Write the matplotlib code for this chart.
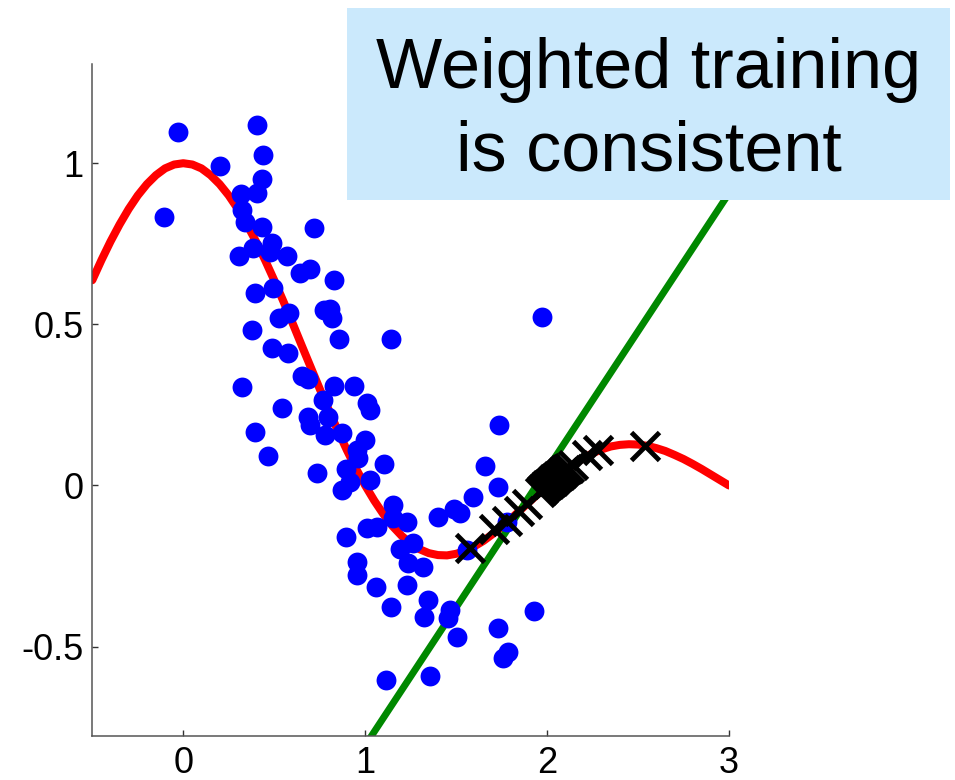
import matplotlib
matplotlib.use("Agg")
import matplotlib.pyplot as plt
from matplotlib.patches import Rectangle

plt.rcParams['font.family'] = ['Liberation Sans', 'DejaVu Sans']

# True function (red), sampled every 0.05
curve_x = [-0.5, -0.45, -0.4, -0.35, -0.3, -0.25, -0.2, -0.15, -0.1, -0.05, 0.0, 0.05, 0.1,
           0.15, 0.2, 0.25, 0.3, 0.35, 0.4, 0.45, 0.5, 0.55, 0.6, 0.65, 0.7, 0.75, 0.8,
           0.85, 0.9, 0.95, 1.0, 1.05, 1.1, 1.15, 1.2, 1.25, 1.3, 1.35, 1.4, 1.45, 1.5,
           1.55, 1.6, 1.65, 1.7, 1.75, 1.8, 1.85, 1.9, 1.95, 2.0, 2.05, 2.1, 2.15, 2.2,
           2.25, 2.3, 2.35, 2.4, 2.45, 2.5, 2.55, 2.6, 2.65, 2.7, 2.75, 2.8, 2.85, 2.9,
           2.95, 3.0]
curve_y = [0.637, 0.699, 0.757, 0.810, 0.858, 0.900, 0.935, 0.963, 0.984, 0.996, 1.0, 0.996,
           0.984, 0.963, 0.935, 0.900, 0.858, 0.810, 0.757, 0.699, 0.637, 0.572, 0.505,
           0.436, 0.368, 0.300, 0.234, 0.170, 0.109, 0.052, 0.0, -0.047, -0.089, -0.126,
           -0.156, -0.180, -0.198, -0.210, -0.216, -0.217, -0.212, -0.203, -0.189, -0.172,
           -0.151, -0.129, -0.104, -0.078, -0.052, -0.026, 0.0, 0.024, 0.047, 0.067, 0.085,
           0.100, 0.112, 0.121, 0.126, 0.128, 0.127, 0.123, 0.116, 0.107, 0.095, 0.082,
           0.067, 0.051, 0.034, 0.017, 0.0]

# Fitted line (green)
line_x = [1.0, 3.0]
line_y = [-0.807, 0.907]

# Training samples (blue)
train_x = [-0.031, 0.408, 0.203, 0.438, -0.108, 0.432, 0.317, 0.405, 0.323, 0.341, 0.432,
           0.720, 0.487, 0.386, 0.308, 0.478, 0.570, 0.643, 0.698, 0.826, 0.396, 0.496,
           0.771, 0.808, 0.819, 0.524, 0.579, 0.377, 0.857, 0.487, 0.575, 1.141, 0.652,
           0.683, 0.323, 0.826, 0.936, 0.768, 0.542, 1.009, 1.027, 0.683, 0.698, 0.798,
           0.780, 0.872, 0.396, 1.000, 0.954, 0.963, 0.465, 1.104, 0.735, 0.894, 1.024,
           0.918, 0.872, 1.152, 1.229, 1.155, 1.403, 1.489, 1.522, 1.009, 1.064, 0.894,
           1.264, 1.192, 1.659, 1.732, 1.592, 1.238, 1.320, 0.954, 0.954, 1.060, 1.229,
           1.348, 1.141, 1.326, 1.467, 1.458, 1.504, 1.732, 1.930, 1.787, 1.760, 1.115,
           1.357, 1.559, 1.779, 1.974, 1.738]
train_y = [1.096, 1.119, 0.992, 1.026, 0.832, 0.951, 0.905, 0.907, 0.855, 0.819, 0.803,
           0.800, 0.754, 0.736, 0.712, 0.726, 0.712, 0.659, 0.671, 0.638, 0.597, 0.612,
           0.545, 0.548, 0.520, 0.519, 0.534, 0.483, 0.453, 0.428, 0.411, 0.454, 0.340,
           0.330, 0.307, 0.310, 0.310, 0.265, 0.241, 0.255, 0.234, 0.214, 0.188, 0.214,
           0.157, 0.162, 0.167, 0.141, 0.110, 0.084, 0.092, 0.066, 0.040, 0.050, 0.017,
           0.012, -0.014, -0.061, -0.112, -0.102, -0.097, -0.073, -0.084, -0.133, -0.128,
           -0.159, -0.178, -0.197, 0.061, -0.004, -0.035, -0.241, -0.252, -0.236, -0.278,
           -0.314, -0.309, -0.355, -0.376, -0.407, -0.386, -0.412, -0.469, -0.443, -0.389,
           -0.516, -0.536, -0.604, -0.591, -0.200, -0.112, 0.522, 0.188]

# Test samples (black crosses)
test_x = [1.577, 1.709, 1.780, 1.846, 1.890,
          1.96, 1.97, 1.98, 1.99, 2.00, 2.01, 2.02, 2.03, 2.04, 2.05, 2.06, 2.07, 2.08,
          2.09, 2.10, 2.11, 2.12,
          2.143, 2.220, 2.280, 2.538]
test_y = [-0.195, -0.135, -0.109, -0.079, -0.057,
          -0.020, -0.015, -0.010, -0.005, 0.0, 0.005, 0.010, 0.015, 0.020, 0.024, 0.029,
          0.033, 0.038, 0.042, 0.047, 0.051, 0.055,
          0.064, 0.095, 0.110, 0.124]

x_ticks = [0, 1, 2, 3]
y_ticks = [-0.5, 0, 0.5, 1]
y_tick_labels = ['-0.5', '0', '0.5', '1']
title_text = 'Weighted training\nis consistent'

fig = plt.figure(figsize=(9.55, 7.8), dpi=100)
ax = fig.add_axes([92.3 / 955, 1 - 735.7 / 780, (729 - 92.3) / 955, (735.7 - 64.3) / 780])

ax.plot(curve_x, curve_y, color='#ff0000', lw=5.8, solid_capstyle='round',
        solid_joinstyle='round', zorder=2)
ax.plot(line_x, line_y, color='#008800', lw=5.0, zorder=2)
ax.plot(train_x, train_y, 'o', color='#0000ff', ms=14.3, mec='none', zorder=3)
ax.plot(test_x, test_y, 'x', color='black', ms=20, mew=3.5, zorder=4)

ax.set_xlim(-0.5, 3.0)
ax.set_ylim(-0.7765, 1.307)
ax.set_xticks(x_ticks)
ax.set_xticklabels([str(t) for t in x_ticks])
ax.set_yticks(y_ticks)
ax.set_yticklabels(y_tick_labels)

for s in ['top', 'right']:
    ax.spines[s].set_visible(False)
for s in ['left', 'bottom']:
    ax.spines[s].set_color('#555555')
    ax.spines[s].set_linewidth(1.1)
ax.tick_params(axis='both', direction='in', length=4.3, width=1.0, color='#333333',
               labelsize=26, labelcolor='black')
ax.tick_params(axis='x', pad=7.5)
ax.tick_params(axis='y', pad=6.5)

fig.patches.append(Rectangle((347 / 955, 1 - 200 / 780), 603 / 955, 192 / 780,
                             transform=fig.transFigure, facecolor='#cbe9fc',
                             edgecolor='none', zorder=10))
fig.text(648.5 / 955, 1 - 111 / 780, title_text, ha='center', va='center',
         fontsize=50.5, linespacing=1.33, color='black', zorder=11)

fig.savefig('out.png', dpi=100)
